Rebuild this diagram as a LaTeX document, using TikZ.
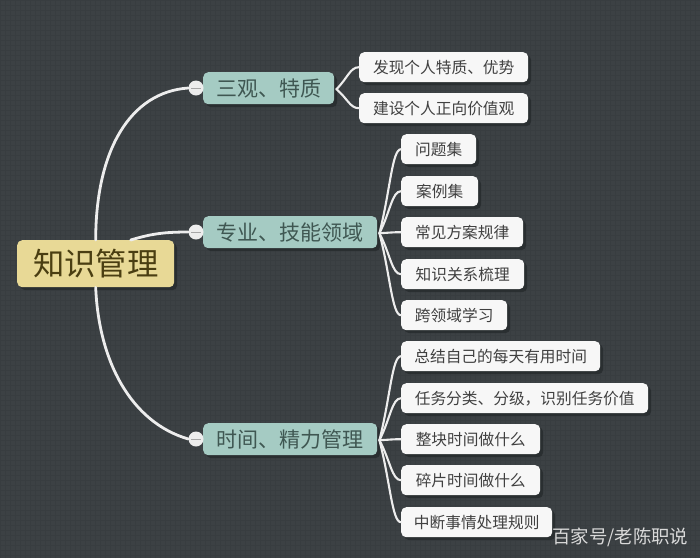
\documentclass[tikz,border=0pt]{standalone}
\usepackage{fontspec}
\setmainfont{Noto Sans CJK SC}
\usetikzlibrary{shadows,calc}
\definecolor{bgc}{HTML}{3C4144}
\definecolor{gridc}{HTML}{383D40}
\definecolor{rootc}{HTML}{E8D996}
\definecolor{roott}{HTML}{4A3E12}
\definecolor{branchc}{HTML}{A5CBC3}
\definecolor{brancht}{HTML}{3F5752}
\definecolor{leaft}{HTML}{404040}
\definecolor{shadowc}{HTML}{25292B}
\tikzset{
  box/.style={rounded corners=5pt,inner sep=0pt,align=center,anchor=north west,
    drop shadow={shadow xshift=3pt,shadow yshift=-3pt,fill=shadowc,opacity=.75}},
  rootbox/.style={box,fill=rootc,text=roott,font=\fontsize{31.3}{31.3}\selectfont,
    minimum width=157pt,minimum height=47pt,text height=27pt,text depth=3pt},
  branchbox/.style={box,fill=branchc,text=brancht,font=\fontsize{21}{21}\selectfont,
    minimum height=32pt,text height=18pt,text depth=2pt},
  leafbox/.style={box,fill=white!97!black,text=leaft,font=\fontsize{15.7}{15.7}\selectfont,
    minimum height=30pt,text height=13.5pt,text depth=1.5pt},
  thick link/.style={draw=white!93!black,line width=2.8pt,line cap=round},
  leaflink/.style={draw=white!93!black,line width=2.1pt,line cap=round},
  toggle/.style={circle,fill=white!93!black,inner sep=0pt,minimum size=15pt},
  minusbar/.style={draw=gray!70,line width=1pt},
  mark text/.style={text=white!85!black,font=\fontsize{18.4}{18.4}\selectfont,inner sep=0pt}
}
\newcommand{\leaflinkto}[2]{%
  \draw[leaflink] ($(#1.east)+(2,1)$) .. controls ($($(#1.east)+(2,1)$)!0.5!(#2.west)$) and ($(#2.west)+(-9,0)$) .. (#2.west);}
\begin{document}
\begin{tikzpicture}[x=1pt,y=-1pt]
\useasboundingbox (0,0) rectangle (700,558);
\fill[bgc] (0,0) rectangle (700,558);
\draw[gridc,line width=.35pt,step=5pt] (0,0) grid (700,-558);
\draw[gridc,line width=.35pt,step=5pt] (0,0) grid (700,558);

% nodes
\node[rootbox] (root) at (17,240) {知识管理};
\node[branchbox,minimum width=131pt] (b1) at (203,72) {三观、特质};
\node[branchbox,minimum width=174pt] (b2) at (203,216) {专业、技能领域};
\node[branchbox,minimum width=174pt] (b3) at (203,423) {时间、精力管理};

\node[toggle] (t1) at (196,88) {};
\node[toggle] (t2) at (196,232) {};
\node[toggle] (t3) at (196,439) {};

\node[leafbox,minimum width=169pt] (a1) at (359,52) {发现个人特质、优势};
\node[leafbox,minimum width=169pt] (a2) at (359,93) {建设个人正向价值观};

\node[leafbox,minimum width=75pt] (c1) at (401,134) {问题集};
\node[leafbox,minimum width=77pt] (c2) at (401,176) {案例集};
\node[leafbox,minimum width=122pt] (c3) at (401,217) {常见方案规律};
\node[leafbox,minimum width=123pt] (c4) at (401,259) {知识关系梳理};
\node[leafbox,minimum width=106pt] (c5) at (401,300) {跨领域学习};

\node[leafbox,minimum width=199pt] (d1) at (401,341) {总结自己的每天有用时间};
\node[leafbox,minimum width=247pt] (d2) at (401,383) {任务分类、分级，识别任务价值};
\node[leafbox,minimum width=139pt] (d3) at (401,424) {整块时间做什么};
\node[leafbox,minimum width=139pt] (d4) at (401,465) {碎片时间做什么};
\node[leafbox,minimum width=151pt] (d5) at (401,507) {中断事情处理规则};

\node[mark text,anchor=west] (wm) at (552,537) {百家号/老陈职说};

% connectors
\draw[thick link] (root.north) .. controls +(0,-90) and ($(t1.west)+(-58,4)$) .. (t1.west);
\draw[thick link] ($(root.north)+(35,0)$) .. controls +(20,-6) and ($(t2.west)+(-25,0)$) .. (t2.west);
\draw[thick link] (root.south) .. controls +(3,73) and ($(t3.west)+(-58,-17)$) .. (t3.west);
\draw[minusbar] ($(t1.west)+(3,0)$) -- ($(t1.east)+(-3,0)$);
\draw[minusbar] ($(t2.west)+(3,0)$) -- ($(t2.east)+(-3,0)$);
\draw[minusbar] ($(t3.west)+(3,0)$) -- ($(t3.east)+(-3,0)$);

\foreach \n in {a1,a2} {\leaflinkto{b1}{\n}}
\foreach \n in {c1,c2,c3,c4,c5} {\leaflinkto{b2}{\n}}
\foreach \n in {d1,d2,d3,d4,d5} {\leaflinkto{b3}{\n}}
\end{tikzpicture}
\end{document}
